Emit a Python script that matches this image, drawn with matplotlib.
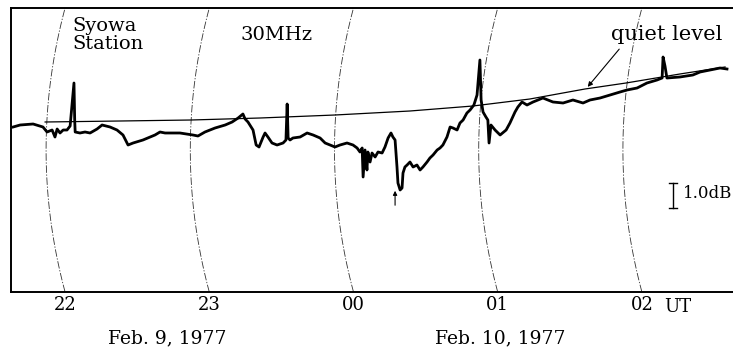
import matplotlib.pyplot as plt
import numpy as np

# time in minutes after 22 UT (Feb 9, 1977), level in dB above chart baseline
trace_min = [-21.6, -18.7, -13.3, -9.2, -7.5, -5.4, -4.2, -3.3, -2.1, -0.8, 0.8, 2.1, 2.9, 3.7, 4.0, 4.2,
             6.2, 8.3, 10.4, 13.3, 15.4, 18.7, 21.6, 24.1, 26.2, 28.3, 32.4, 37.4, 39.5, 41.6, 47.8, 53.2,
             55.3, 58.2, 62.4, 66.6, 69.5, 72.0, 74.0, 74.9, 76.1, 78.2, 79.5, 80.7, 82.4, 83.2, 84.4, 86.1,
             88.2, 90.7, 91.9, 92.4, 92.8, 93.6, 94.8, 97.8, 100.7, 103.2, 106.1, 108.2, 110.2, 112.3, 114.4,
             117.3, 119.8, 121.5, 122.7, 123.6, 124.0, 124.8, 125.6, 126.0, 126.9, 127.7, 129.0, 130.2, 131.9,
             133.1, 134.4, 135.6, 136.4, 137.3, 138.1, 138.5, 139.4, 140.2, 140.6, 141.4, 142.3, 143.5, 144.8,
             146.4, 147.7, 148.9, 150.6, 151.8, 153.1, 154.8, 156.0, 157.2, 158.9, 160.2, 161.4, 163.1, 164.3,
             165.6, 167.2, 168.5, 170.1, 171.4, 172.6, 173.1, 173.9, 175.1, 175.9, 176.4, 177.2, 178.9, 181.0,
             183.5, 185.1, 187.2, 188.4, 190.1, 192.2, 194.7, 198.8, 203.0, 207.2, 211.3, 215.5, 218.4, 222.6,
             226.7, 230.9, 233.8, 238.0, 242.1, 246.3, 248.4, 248.8, 249.6, 250.4, 255.8, 261.2, 264.2, 268.3,
             272.5, 275.4]
trace_db = [6.60, 6.68, 6.72, 6.60, 6.40, 6.48, 6.20, 6.52, 6.36, 6.48, 6.48, 6.64, 7.48, 8.36, 6.88, 6.40,
            6.36, 6.40, 6.36, 6.52, 6.68, 6.60, 6.48, 6.28, 5.88, 5.96, 6.08, 6.28, 6.40, 6.36, 6.36, 6.28,
            6.24, 6.40, 6.56, 6.68, 6.80, 6.96, 7.12, 6.92, 6.80, 6.48, 5.88, 5.80, 6.20, 6.36, 6.20, 5.96,
            5.88, 5.96, 6.08, 7.52, 6.16, 6.08, 6.16, 6.20, 6.36, 6.28, 6.16, 5.96, 5.88, 5.80, 5.88,
            5.96, 5.88, 5.76, 5.60, 5.76, 4.60, 5.68, 4.88, 5.60, 5.20, 5.56, 5.40, 5.60, 5.56,
            5.80, 6.16, 6.36, 6.20, 6.08, 5.00, 4.36, 4.08, 4.16, 4.76, 5.00, 5.08, 5.20, 5.00,
            5.08, 4.88, 5.00, 5.20, 5.36, 5.48, 5.68, 5.76, 5.88, 6.20, 6.60, 6.56, 6.48, 6.76,
            6.88, 7.16, 7.28, 7.48, 7.88, 9.28, 7.68, 7.20, 7.00, 6.88, 5.96, 6.68, 6.48, 6.28,
            6.48, 6.76, 7.20, 7.40, 7.60, 7.48, 7.60, 7.76, 7.60, 7.56, 7.68, 7.56, 7.68, 7.76,
            7.88, 8.00, 8.08, 8.16, 8.36, 8.48, 8.56, 9.40, 9.04, 8.56, 8.60, 8.68, 8.80, 8.88,
            8.96, 8.92]

quiet_min = [-8.3, 22.9, 52.4, 81.1, 112.3, 143.5, 169.7, 193.4, 216.3, 233.4, 255.8, 274.6]
quiet_db = [6.80, 6.84, 6.88, 6.96, 7.08, 7.24, 7.44, 7.72, 8.12, 8.36, 8.72, 9.00]

hour_ticks = [0, 60, 120, 180, 240]
hour_labels = ['22', '23', '00', '01', '02']

SERIF = 'DejaVu Serif'

fig = plt.figure(figsize=(7.33, 3.5), dpi=100)
ax = fig.add_axes([11 / 733, 58 / 350, 722 / 733, 284 / 350])
ax.set_xlim(-22.5, 277.9)
ax.set_ylim(0, 11.36)

# pen arcs of the chart paper at each hour
v = np.linspace(0, 11.36, 80)
bend = -7.9 * (1 - ((v - 5.68) / 5.68) ** 2)
for h in hour_ticks:
    ax.plot(h + bend, v, color='#333333', lw=0.6, dashes=(9, 2, 1.5, 2))

ax.plot(quiet_min, quiet_db, color='black', lw=0.9)
ax.plot(trace_min, trace_db, color='black', lw=2.0, solid_joinstyle='round')

for s in ['right']:
    ax.spines[s].set_visible(False)
for s in ['left', 'top', 'bottom']:
    ax.spines[s].set_linewidth(1.4)
ax.set_yticks([])
ax.set_xticks(hour_ticks)
ax.set_xticklabels(hour_labels, family=SERIF, fontsize=13)
ax.tick_params(axis='x', length=0, pad=3)

ax.text(255, -0.0704, 'UT', transform=ax.get_xaxis_transform(), family=SERIF,
        fontsize=13, ha='center', va='baseline')
ax.text(42.4, -0.18, 'Feb. 9, 1977', transform=ax.get_xaxis_transform(), family=SERIF,
        fontsize=13.5, ha='center', va='baseline')
ax.text(181, -0.18, 'Feb. 10, 1977', transform=ax.get_xaxis_transform(), family=SERIF,
        fontsize=13.5, ha='center', va='baseline')

ax.text(2.9, 11.0, 'Syowa\nStation', family=SERIF, fontsize=14, ha='left', va='top',
        linespacing=1.0)
ax.text(72.8, 10.65, '30MHz', family=SERIF, fontsize=14, ha='left', va='top')
ax.text(227.1, 10.08, 'quiet level', family=SERIF, fontsize=15, ha='left', va='baseline')
ax.annotate('', xy=(216.7, 8.12), xytext=(231.3, 9.8),
            arrowprops=dict(arrowstyle='-|>', color='black', lw=0.8, mutation_scale=7))

# 1 dB scale bar
ax.plot([252.9, 252.9], [3.36, 4.36], color='black', lw=1.0)
ax.plot([251.3, 254.5], [3.36, 3.36], color='black', lw=1.0)
ax.plot([251.3, 254.5], [4.36, 4.36], color='black', lw=1.0)
ax.text(257.1, 3.96, '1.0dB', family=SERIF, fontsize=12, ha='left', va='center')

ax.annotate('', xy=(137.3, 4.16), xytext=(137.3, 3.36),
            arrowprops=dict(arrowstyle='-|>', color='black', lw=0.8, mutation_scale=6))

fig.savefig('out.png', dpi=100)
